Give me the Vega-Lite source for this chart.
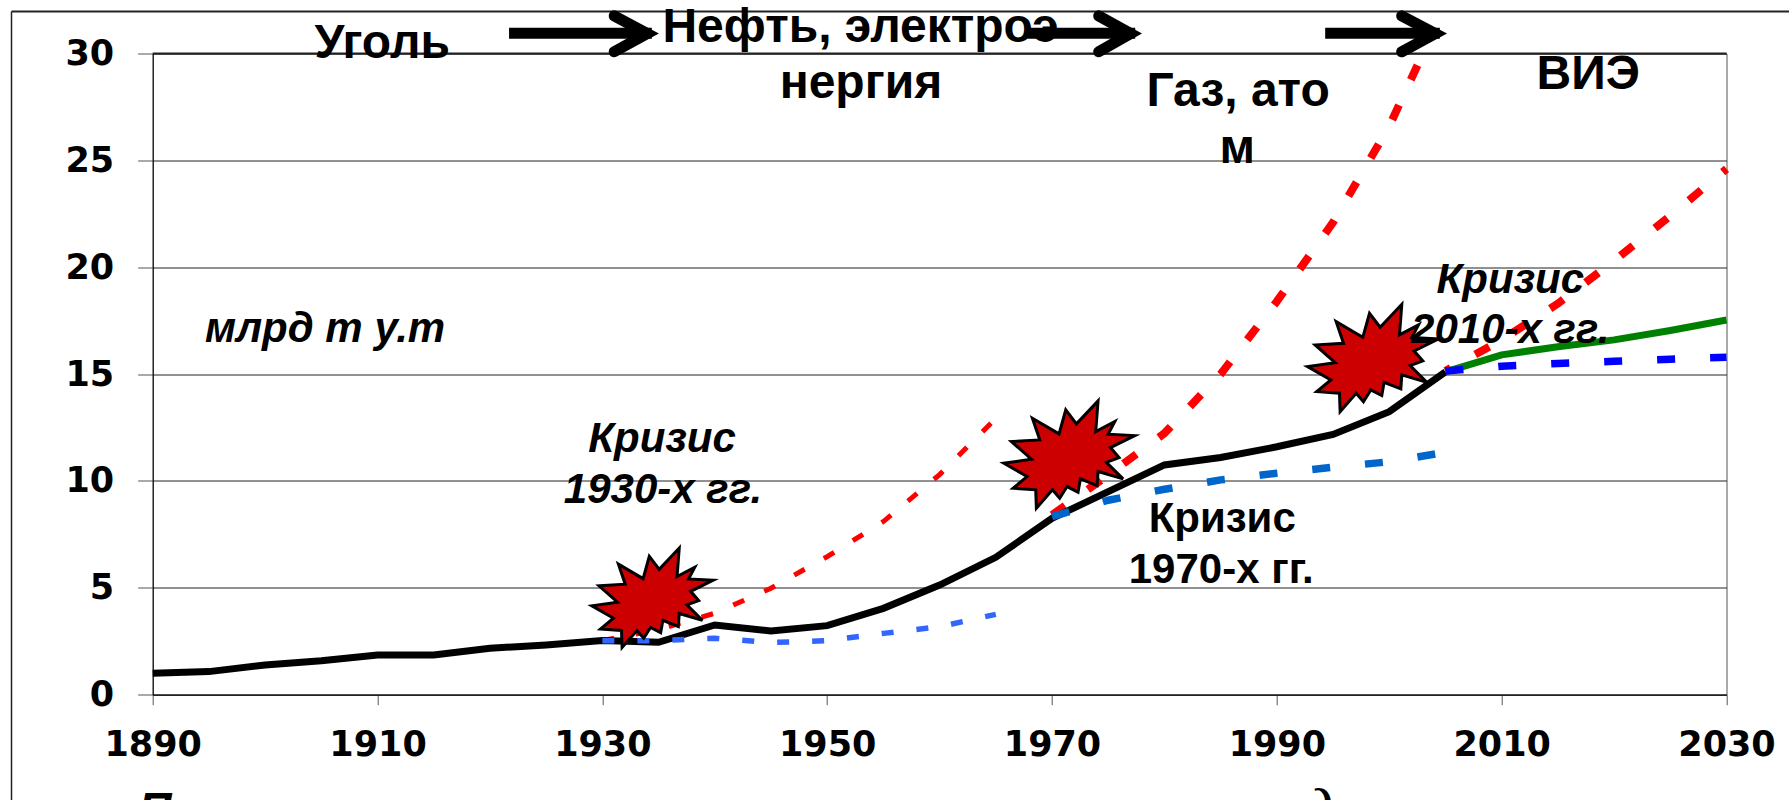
{
"$schema":"https://vega.github.io/schema/vega-lite/v6.json",
"width":1573.8,"height":641.2,
"autosize":"none",
"padding":{"left":152.7,"top":53.5,"right":62.5,"bottom":105.3},
"background":"white",
"config":{"view":{"stroke":"#555555","strokeWidth":1}},
"datasets":{
"black":[{"year":1890,"value":1.0},{"year":1895,"value":1.08},{"year":1900,"value":1.39},{"year":1905,"value":1.59},{"year":1910,"value":1.86},{"year":1915,"value":1.86},{"year":1920,"value":2.17},{"year":1925,"value":2.33},{"year":1930,"value":2.53},{"year":1935,"value":2.45},{"year":1940,"value":3.26},{"year":1945,"value":2.98},{"year":1950,"value":3.23},{"year":1955,"value":4.04},{"year":1960,"value":5.13},{"year":1965,"value":6.43},{"year":1970,"value":8.25},{"year":1975,"value":9.5},{"year":1980,"value":10.75},{"year":1985,"value":11.1},{"year":1990,"value":11.6},{"year":1995,"value":12.18},{"year":2000,"value":13.24},{"year":2005,"value":15.1}],
"green":[{"year":2005,"value":15.1},{"year":2010,"value":15.9},{"year":2015,"value":16.28},{"year":2020,"value":16.6},{"year":2025,"value":17.04},{"year":2030,"value":17.53}],
"blueLate":[{"year":2005,"value":15.15},{"year":2010,"value":15.37},{"year":2015,"value":15.5},{"year":2020,"value":15.6},{"year":2025,"value":15.7},{"year":2030,"value":15.79}],
"blueMid":[{"year":1970,"value":8.33},{"year":1975,"value":9.1},{"year":1980,"value":9.61},{"year":1985,"value":10.05},{"year":1990,"value":10.36},{"year":1995,"value":10.64},{"year":2000,"value":10.9},{"year":2004.5,"value":11.3}],
"blueEarly":[{"year":1930,"value":2.53},{"year":1935,"value":2.53},{"year":1940,"value":2.64},{"year":1945,"value":2.44},{"year":1950,"value":2.53},{"year":1955,"value":2.87},{"year":1960,"value":3.18},{"year":1965,"value":3.76}],
"redEarly":[{"year":1930,"value":2.53},{"year":1935,"value":3.05},{"year":1940,"value":3.81},{"year":1945,"value":4.98},{"year":1950,"value":6.46},{"year":1955,"value":8.1},{"year":1960,"value":10.3},{"year":1965,"value":12.93}],
"redMid":[{"year":1970,"value":8.41},{"year":1975,"value":10.28},{"year":1980,"value":12.23},{"year":1985,"value":15.0},{"year":1990,"value":18.4},{"year":1995,"value":22.1},{"year":2000,"value":26.6},{"year":2003,"value":30}],
"redLate":[{"year":2005,"value":15.15},{"year":2010,"value":16.6},{"year":2015,"value":18.3},{"year":2020,"value":20.3},{"year":2025,"value":22.4},{"year":2030,"value":24.6}],
"crisisEarly":[{"year":1934.23,"value":4.52}],
"crises":[{"year":1971.28,"value":11.22},{"year":1998.3,"value":15.74}],
"frameH":[{"year":1877.44,"year2":2035.56,"value":31.96},{"year":1890,"year2":2030,"value":30}],
"frameV":[{"year":1877.44,"value":31.96,"value2":-4.93}],
"shafts":[{"id":"a","year":1921.7,"value":30.95},{"id":"a","year":1934.4,"value":30.95},{"id":"b","year":1967.8,"value":30.95},{"id":"b","year":1977.4,"value":30.95},{"id":"c","year":1994.3,"value":30.95},{"id":"c","year":2004.5,"value":30.95}],
"heads":[{"id":"a","o":1,"year":1931.05,"value":31.76},{"id":"a","o":2,"year":1934.0,"value":30.93},{"id":"a","o":3,"year":1931.05,"value":30.08},{"id":"b","o":1,"year":1974.15,"value":31.76},{"id":"b","o":2,"year":1977.0,"value":30.93},{"id":"b","o":3,"year":1974.15,"value":30.08},{"id":"c","o":1,"year":2001.1,"value":31.76},{"id":"c","o":2,"year":2004.1,"value":30.93},{"id":"c","o":3,"year":2001.1,"value":30.08}],
"textLarge":[{"label":"Уголь","year":1910.41,"value":29.8},{"label":"Нефть, электроэ","year":1952.97,"value":30.56},{"label":"нергия","year":1953.0,"value":27.92},{"label":"Газ, ато","year":1986.56,"value":27.55},{"label":"м","year":1986.47,"value":24.88},{"label":"ВИЭ","year":2017.7,"value":28.34}],
"textBold":[{"label":"Кризис","year":1985.14,"value":7.61},{"label":"1970-х гг.","year":1985.05,"value":5.23}],
"textItalic":[{"label":"млрд т у.т","year":1905.33,"value":16.5},{"label":"Кризис","year":1935.31,"value":11.37},{"label":"1930-х гг.","year":1935.4,"value":8.97},{"label":"Кризис","year":2010.77,"value":18.8},{"label":"2010-х гг.","year":2010.77,"value":16.46}],
"textBottom":[{"label":"П","year":1890.2,"value":-6.1}],
"textBottomSerif":[{"label":"д","year":1993.9,"value":-5.9}]
},
"encoding":{
"x":{"field":"year","type":"quantitative","scale":{"domain":[1890,2030],"nice":false,"zero":false},"axis":{"title":null,"values":[1890,1910,1930,1950,1970,1990,2010,2030],"format":"d","grid":false,"domainColor":"#222222","domainWidth":1.5,"tickColor":"#555555","tickSize":10,"labelFont":"DejaVu Sans","labelFontWeight":"bold","labelFontSize":35,"labelColor":"black","labelPadding":23,"labelBaseline":"top","labelFlush":false,"labelOverlap":false}},
"y":{"field":"value","type":"quantitative","scale":{"domain":[0,30],"nice":false},"axis":{"title":null,"values":[0,5,10,15,20,25,30],"grid":true,"gridColor":"#222222","gridWidth":1,"domainColor":"black","domainWidth":1,"tickColor":"#555555","tickSize":15,"labelFont":"DejaVu Sans","labelFontWeight":"bold","labelFontSize":35,"labelColor":"black","labelPadding":24,"labelFlush":false,"labelOverlap":false}}
},
"layer":[
{"data":{"name":"frameH"},"mark":{"type":"rule","color":"#222222","strokeWidth":2},"encoding":{"x2":{"field":"year2"}}},
{"data":{"name":"frameV"},"mark":{"type":"rule","color":"#222222","strokeWidth":1.5},"encoding":{"y2":{"field":"value2"}}},
{"data":{"name":"redEarly"},"mark":{"type":"line","color":"#ff0000","strokeWidth":5,"strokeDash":[12,22]}},
{"data":{"name":"redMid"},"mark":{"type":"line","color":"#ff0000","strokeWidth":8,"strokeDash":[16,28]}},
{"data":{"name":"redLate"},"mark":{"type":"line","color":"#ff0000","strokeWidth":8,"strokeDash":[16,28],"strokeDashOffset":10}},
{"data":{"name":"black"},"mark":{"type":"line","color":"black","strokeWidth":7}},
{"data":{"name":"green"},"mark":{"type":"line","color":"#008000","strokeWidth":7}},
{"data":{"name":"blueEarly"},"mark":{"type":"line","color":"#3366ff","strokeWidth":5.5,"strokeDash":[12,23]}},
{"data":{"name":"blueMid"},"mark":{"type":"line","color":"#0066cc","strokeWidth":7.5,"strokeDash":[18,35]}},
{"data":{"name":"blueLate"},"mark":{"type":"line","color":"#0000ff","strokeWidth":7.5,"strokeDash":[18,35]}},
{"data":{"name":"crisisEarly"},"mark":{"type":"point","filled":true,"opacity":1,"fill":"#cc0000","stroke":"black","strokeWidth":3,"strokeJoin":"miter","size":14500,"shape":"M.487 -.831L.451 -.359L.744 -.513L.641 -.318L1.051 -.297L.677 -.113L.81 .041L.615 .113L.872 .369L.487 .256L.472 .472L.215 .369L.179 .574L.01 .487L-.103 .667L-.215 .538L-.462 .821L-.472 .538L-.821 .513L-.605 .333L-.964 .128L-.538 .067L-.846 -.205L-.41 -.231L-.523 -.564L-.113 -.323L-.01 -.692L.154 -.477Z"}},
{"data":{"name":"crises"},"mark":{"type":"point","filled":true,"opacity":1,"fill":"#cc0000","stroke":"black","strokeWidth":3,"strokeJoin":"miter","size":16900,"shape":"M.487 -.831L.451 -.359L.744 -.513L.641 -.318L1.051 -.297L.677 -.113L.81 .041L.615 .113L.872 .369L.487 .256L.472 .472L.215 .369L.179 .574L.01 .487L-.103 .667L-.215 .538L-.462 .821L-.472 .538L-.821 .513L-.605 .333L-.964 .128L-.538 .067L-.846 -.205L-.41 -.231L-.523 -.564L-.113 -.323L-.01 -.692L.154 -.477Z"}},
{"data":{"name":"textLarge"},"mark":{"type":"text","font":"Liberation Sans","fontWeight":"bold","fontSize":48,"color":"black","align":"center","baseline":"alphabetic"},"encoding":{"text":{"field":"label"}}},
{"data":{"name":"textBold"},"mark":{"type":"text","font":"Liberation Sans","fontWeight":"bold","fontSize":42,"color":"black","align":"center","baseline":"alphabetic"},"encoding":{"text":{"field":"label"}}},
{"data":{"name":"textItalic"},"mark":{"type":"text","font":"Liberation Sans","fontWeight":"bold","fontStyle":"italic","fontSize":42,"color":"black","align":"center","baseline":"alphabetic"},"encoding":{"text":{"field":"label"}}},
{"data":{"name":"textBottom"},"mark":{"type":"text","font":"Liberation Sans","fontWeight":"bold","fontStyle":"italic","fontSize":46,"color":"black","align":"center","baseline":"alphabetic"},"encoding":{"text":{"field":"label"}}},
{"data":{"name":"textBottomSerif"},"mark":{"type":"text","font":"Liberation Serif","fontWeight":"bold","fontStyle":"italic","fontSize":46,"color":"black","align":"center","baseline":"alphabetic"},"encoding":{"text":{"field":"label"}}},
{"data":{"name":"shafts"},"mark":{"type":"line","color":"black","strokeWidth":11},"encoding":{"detail":{"field":"id"}}},
{"data":{"name":"heads"},"mark":{"type":"line","color":"black","strokeWidth":11,"strokeCap":"round","strokeJoin":"miter"},"encoding":{"detail":{"field":"id"},"order":{"field":"o"}}}
]
}
